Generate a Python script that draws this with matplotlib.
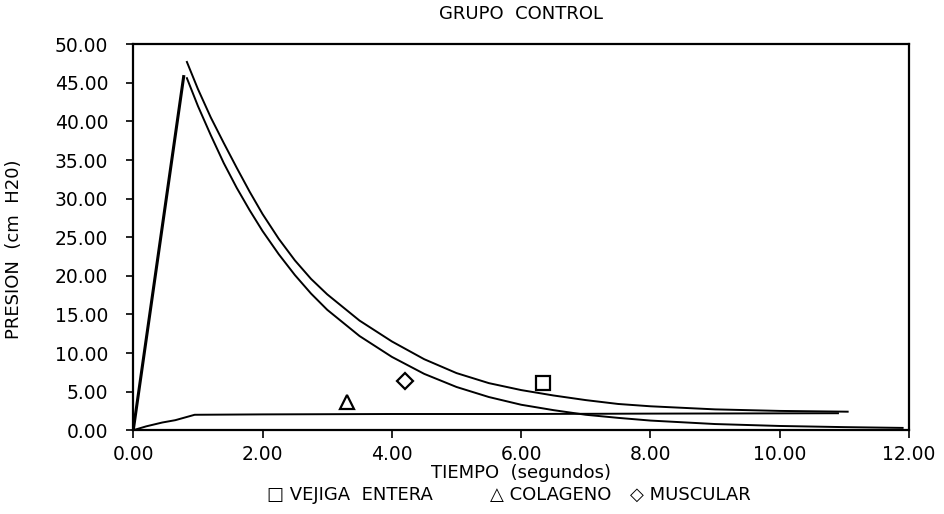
import matplotlib
matplotlib.use("Agg")
import matplotlib.pyplot as plt

# ======================================================
# Data
# ======================================================

rise_x = [0.0, 0.78]
rise_y = [0.0, 45.8]

vejiga_x = [0.83, 1.0, 1.2, 1.4, 1.6, 1.8, 2.0, 2.25, 2.5, 2.75, 3.0, 3.5,
            4.0, 4.5, 5.0, 5.5, 6.0, 6.5, 7.0, 7.5, 8.0, 9.0, 10.0, 11.05]
vejiga_y = [47.7, 44.2, 40.5, 37.2, 34.0, 30.9, 28.0, 24.8, 22.0, 19.6, 17.6, 14.2,
            11.5, 9.2, 7.4, 6.1, 5.2, 4.5, 3.9, 3.4, 3.1, 2.7, 2.5, 2.4]

muscular_x = [0.83, 1.0, 1.2, 1.4, 1.6, 1.8, 2.0, 2.25, 2.5, 2.75, 3.0, 3.5,
              4.0, 4.5, 5.0, 5.5, 6.0, 6.5, 7.0, 7.5, 8.0, 9.0, 10.0, 11.0, 11.9]
muscular_y = [45.6, 42.0, 38.2, 34.6, 31.4, 28.5, 25.8, 22.8, 20.1, 17.7, 15.6, 12.2,
              9.5, 7.3, 5.6, 4.3, 3.3, 2.6, 2.0, 1.6, 1.25, 0.8, 0.55, 0.4, 0.3]

colageno_x = [0.0, 0.2, 0.45, 0.65, 0.95, 2.0, 4.0, 6.0, 8.0, 10.9]
colageno_y = [0.0, 0.5, 1.0, 1.3, 2.0, 2.05, 2.1, 2.1, 2.15, 2.2]

# label markers placed next to each curve
marker_x = [6.33, 3.3, 4.21]
marker_y = [6.1, 3.7, 6.4]
marker_shapes = ["s", "^", "D"]

x_ticks = [0, 2, 4, 6, 8, 10, 12]
y_ticks = [0, 5, 10, 15, 20, 25, 30, 35, 40, 45, 50]

# ======================================================
# Plot
# ======================================================

plt.rcParams["font.family"] = ["DejaVu Sans"]

fig = plt.figure(figsize=(9.45, 5.14), dpi=100)
ax = fig.add_axes([0.141, 0.163, 0.821, 0.751])

ax.plot(rise_x, rise_y, color="black", lw=2.2)
ax.plot(vejiga_x, vejiga_y, color="black", lw=1.4)
ax.plot(muscular_x, muscular_y, color="black", lw=1.4)
ax.plot(colageno_x, colageno_y, color="black", lw=1.4)

for mx, my, ms in zip(marker_x, marker_y, marker_shapes):
    size = 8 if ms == "D" else 10
    ax.plot(mx, my, marker=ms, markersize=size, markerfacecolor="white",
            markeredgecolor="black", markeredgewidth=1.6, linestyle="none")

ax.set_xlim(0, 12)
ax.set_ylim(0, 50)
ax.set_xticks(x_ticks)
ax.set_yticks(y_ticks)
ax.set_xticklabels([f"{v:.2f}" for v in x_ticks])
ax.set_yticklabels([f"{v:.2f}" for v in y_ticks])

ax.tick_params(axis="y", direction="out", length=5, width=1.2, pad=13, labelsize=13.5)
ax.tick_params(axis="x", direction="out", length=6, width=1.2, pad=5, labelsize=13.5)

for side in ["left", "bottom", "right", "top"]:
    ax.spines[side].set_linewidth(1.6)

ax.set_ylabel("PRESION  (cm  H20)", fontsize=13)
ax.yaxis.set_label_coords(-0.142, 0.47)
ax.set_xlabel("TIEMPO  (segundos)", fontsize=13, labelpad=0)
ax.set_title("GRUPO  CONTROL", fontsize=13, pad=18)

fig.text(0.283, 0.037, "\u25a1 VEJIGA  ENTERA", fontsize=13, va="center")
fig.text(0.518, 0.037, "\u25b3 COLAGENO", fontsize=13, va="center")
fig.text(0.667, 0.037, "\u25c7 MUSCULAR", fontsize=13, va="center")

plt.savefig("out.png", dpi=100)
